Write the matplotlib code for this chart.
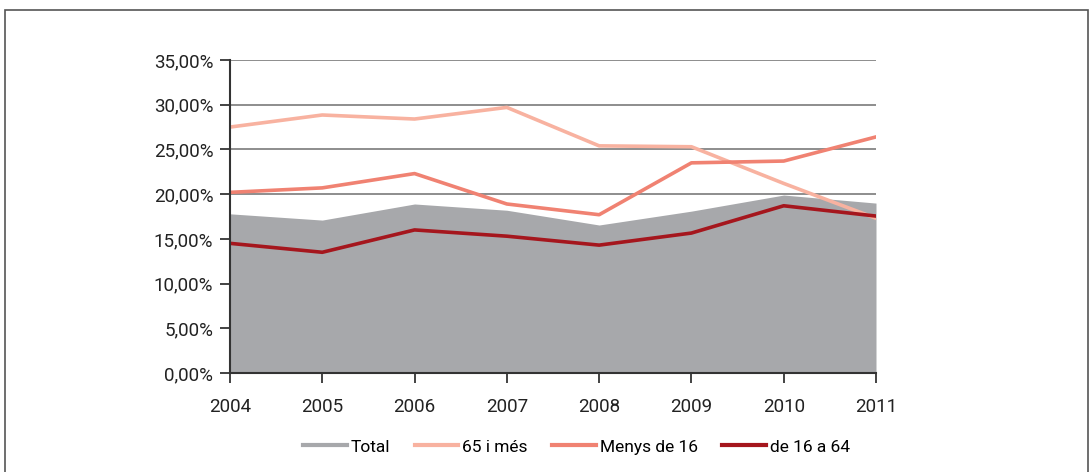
import matplotlib.pyplot as plt
from matplotlib.patches import Rectangle
from matplotlib.lines import Line2D
from matplotlib.ticker import FuncFormatter

plt.rcParams['font.family'] = ['Roboto', 'DejaVu Sans']

years = [2004, 2005, 2006, 2007, 2008, 2009, 2010, 2011]
total = [17.8, 17.1, 18.9, 18.2, 16.55, 18.1, 19.9, 19.0]
mes65 = [27.5, 28.85, 28.4, 29.7, 25.4, 25.3, 21.2, 17.3]
menys16 = [20.2, 20.7, 22.3, 18.9, 17.7, 23.5, 23.7, 26.4]
de16a64 = [14.5, 13.5, 16.0, 15.3, 14.3, 15.65, 18.7, 17.55]

c_total = '#a7a8ab'
c_65 = '#f8b2a0'
c_m16 = '#f08272'
c_1664 = '#a5161d'

fig = plt.figure(figsize=(10.92, 4.72), dpi=100)
ax = fig.add_axes([0.2106, 0.2097, 0.5916, 0.6632])

# outer frame
fig.patches.append(Rectangle((5 / 1092, -0.05), 1083 / 1092, 1.05 - 10 / 472,
                             transform=fig.transFigure, fill=False,
                             edgecolor='#555555', linewidth=1.2))

for v in range(5, 40, 5):
    ax.axhline(v, color='#7a7a7a', linewidth=1.2, zorder=1)

ax.fill_between(years, total, 0, color=c_total, linewidth=0, zorder=2)
ax.plot(years, mes65, color=c_65, linewidth=2.6, zorder=3)
ax.plot(years, menys16, color=c_m16, linewidth=2.6, zorder=4)
ax.plot(years, de16a64, color=c_1664, linewidth=2.6, zorder=5)

ax.set_xlim(2004, 2011)
ax.set_ylim(0, 35)
ax.set_xticks(years)
ax.set_yticks(range(0, 40, 5))
ax.yaxis.set_major_formatter(FuncFormatter(lambda v, p: f'{v:.2f}%'.replace('.', ',')))
ax.tick_params(axis='both', labelsize=13.5, colors='#222222', length=7, width=1.2, direction='out')
ax.tick_params(axis='x', pad=11)
ax.tick_params(axis='y', pad=5)
for s in ['top', 'right']:
    ax.spines[s].set_visible(False)
for s in ['left', 'bottom']:
    ax.spines[s].set_color('#333333')
    ax.spines[s].set_linewidth(1.5)
    ax.spines[s].set_zorder(6)

handles = [Line2D([], [], color=c, linewidth=3) for c in [c_total, c_65, c_m16, c_1664]]
labels = ['Total', '65 i més', 'Menys de 16', 'de 16 a 64']
fig.legend(handles, labels, loc='center', bbox_to_anchor=(0.528, 0.053), ncol=4,
           frameon=False, fontsize=12.5, handlelength=2.5, handletextpad=0.25,
           columnspacing=1.4)

fig.savefig('out.png', dpi=100)
